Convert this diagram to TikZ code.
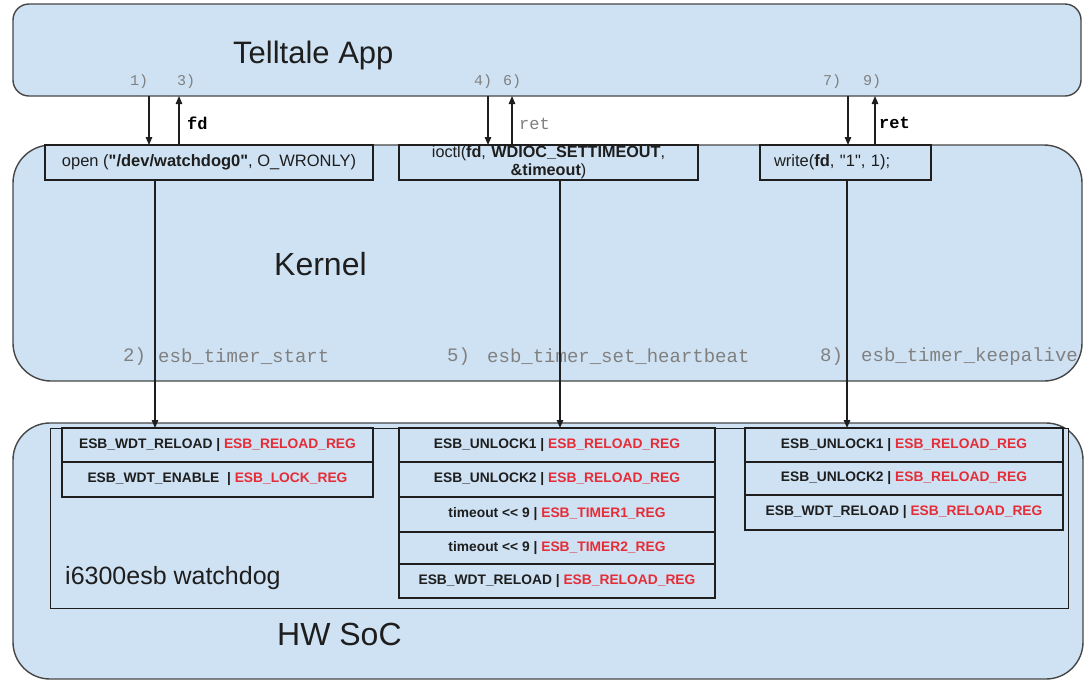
\documentclass[tikz,border=0pt]{standalone}
\usepackage{fontspec}
\setmainfont{Liberation Sans}
\setmonofont{Liberation Mono}
\usetikzlibrary{arrows.meta}

\definecolor{panel}{RGB}{207,226,243}
\definecolor{regred}{RGB}{229,45,55}
\definecolor{stepgray}{RGB}{128,128,128}
\definecolor{ink}{RGB}{30,30,30}
\definecolor{rim}{RGB}{70,70,70}

\newcommand{\rr}[1]{\textcolor{regred}{#1}}
\newcommand{\dq}{{\addfontfeature{Ligatures=TeXOff}\symbol{34}}}

\begin{document}
\begin{tikzpicture}[x=1pt,y=-1pt,
  layerbox/.style={draw=rim, line width=1.4pt, fill=panel, inner sep=0pt, outer sep=0pt, anchor=north west},
  callbox/.style={draw=ink, line width=1.3pt, fill=panel, inner sep=0pt, outer sep=0pt, anchor=north west,
    minimum height=35pt, text=ink, font=\fontsize{16.5}{18}\selectfont},
  regbox/.style={draw=ink, line width=1.3pt, fill=panel, inner sep=0pt, outer sep=0pt, anchor=north west,
    text=ink, font=\fontsize{13.8}{16}\selectfont\bfseries},
  biglabel/.style={inner sep=0pt, anchor=base west, text=ink},
  steplabel/.style={inner sep=0pt, anchor=west, text=stepgray, font=\ttfamily\fontsize{15}{15}\selectfont},
  fnlabel/.style={inner sep=0pt, anchor=west, text=stepgray, font=\ttfamily\fontsize{19}{19}\selectfont},
  retlabel/.style={inner sep=0pt, anchor=west, font=\ttfamily\fontsize{17}{17}\selectfont},
  flow/.style={draw=ink, line width=1.3pt, -{Triangle[length=8pt,width=6.5pt]}}
]
\useasboundingbox (0,0) rectangle (1087,681);
\fill[white] (0,0) rectangle (1087,681);

% layers
\node[layerbox, rounded corners=16pt, minimum width=1068pt, minimum height=92pt] (app) at (13,4) {};
\node[layerbox, rounded corners=38pt, minimum width=1069pt, minimum height=236pt] (kernel) at (13,145) {};
\node[layerbox, rounded corners=37pt, minimum width=1070pt, minimum height=256pt] (soc) at (13,423) {};
\node[draw=ink, line width=1.3pt, fill=panel, inner sep=0pt, anchor=north west,
      minimum width=1018pt, minimum height=180pt] (wdt) at (50,428) {};

\node[biglabel, font=\fontsize{31}{31}\selectfont] (appname) at (233,63) {Telltale App};
\node[biglabel, font=\fontsize{32}{32}\selectfont] (kername) at (274,275) {Kernel};
\node[biglabel, font=\fontsize{32}{32}\selectfont] (socname) at (277,645) {HW SoC};
\node[biglabel, font=\fontsize{25}{25}\selectfont] (wdtname) at (65,584) {i6300esb watchdog};

% system calls in the kernel
\node[callbox, minimum width=328pt] (open) at (45,145)
  {open (\textbf{\dq/dev/watchdog0\dq}, O\_WRONLY)};
\node[callbox, minimum width=299pt, text width=281pt, align=center,
      font=\fontsize{16.2}{18}\selectfont] (ioctl) at (399,145)
  {ioctl(\textbf{fd}, \textbf{WDIOC\_SETTIMEOUT},\\[0pt]\textbf{\&timeout})};
\node[callbox, minimum width=171pt, text width=143pt, align=left, inner xsep=14pt] (write) at (760,145)
  {write(\textbf{fd}, \dq 1\dq, 1);};

% step numbers
\node[steplabel] (s1) at (130,82) {1)};
\node[steplabel] (s3) at (177,82) {3)};
\node[steplabel] (s4) at (474,82) {4)};
\node[steplabel] (s6) at (503,82) {6)};
\node[steplabel] (s7) at (823,82) {7)};
\node[steplabel] (s9) at (863,82) {9)};

% driver functions
\node[fnlabel] (s2) at (123,357) {2)};
\node[fnlabel] (f2) at (158,357) {esb\_timer\_start};
\node[fnlabel] (s5) at (447,357) {5)};
\node[fnlabel] (f5) at (487,357) {esb\_timer\_set\_heartbeat};
\node[fnlabel] (s8) at (820,357) {8)};
\node[fnlabel] (f8) at (861,357) {esb\_timer\_keepalive};

% register writes
\node[regbox, minimum width=311pt, minimum height=34pt] (a1) at (62,428) {ESB\_WDT\_RELOAD | \rr{ESB\_RELOAD\_REG}};
\node[regbox, minimum width=311pt, minimum height=35pt] (a2) at (62,462) {ESB\_WDT\_ENABLE \ | \rr{ESB\_LOCK\_REG}};

\node[regbox, minimum width=316pt, minimum height=34pt] (b1) at (399,428) {ESB\_UNLOCK1 | \rr{ESB\_RELOAD\_REG}};
\node[regbox, minimum width=316pt, minimum height=35pt] (b2) at (399,462) {ESB\_UNLOCK2 | \rr{ESB\_RELOAD\_REG}};
\node[regbox, minimum width=316pt, minimum height=35pt] (b3) at (399,497) {timeout <{}< 9 | \rr{ESB\_TIMER1\_REG}};
\node[regbox, minimum width=316pt, minimum height=32pt] (b4) at (399,532) {timeout <{}< 9 | \rr{ESB\_TIMER2\_REG}};
\node[regbox, minimum width=316pt, minimum height=34pt] (b5) at (399,564) {ESB\_WDT\_RELOAD | \rr{ESB\_RELOAD\_REG}};

\node[regbox, minimum width=318pt, minimum height=34pt] (c1) at (745,428) {ESB\_UNLOCK1 | \rr{ESB\_RELOAD\_REG}};
\node[regbox, minimum width=318pt, minimum height=33pt] (c2) at (745,462) {ESB\_UNLOCK2 | \rr{ESB\_RELOAD\_REG}};
\node[regbox, minimum width=318pt, minimum height=35pt] (c3) at (745,495) {ESB\_WDT\_RELOAD | \rr{ESB\_RELOAD\_REG}};

% arrow columns
\coordinate (x1) at (149,0);
\coordinate (x3) at (179,0);
\coordinate (x4) at (488,0);
\coordinate (x6) at (512,0);
\coordinate (x7) at (848,0);
\coordinate (x9) at (875,0);
\coordinate (xa) at (155,0);
\coordinate (xb) at (560,0);
\coordinate (xc) at (847,0);

% calls and returns between app and kernel
\draw[flow] (app.south -| x1) -- (open.north -| x1);
\draw[flow] (open.north -| x3) -- (app.south -| x3);
\draw[flow] (app.south -| x4) -- (ioctl.north -| x4);
\draw[flow] (ioctl.north -| x6) -- (app.south -| x6);
\draw[flow] (app.south -| x7) -- (write.north -| x7);
\draw[flow] (write.north -| x9) -- (app.south -| x9);

\node[retlabel, font=\ttfamily\bfseries\fontsize{17}{17}\selectfont] (fd) at (187,123) {fd};
\node[retlabel, text=stepgray] (ret6) at (519,124) {ret};
\node[retlabel, font=\ttfamily\bfseries\fontsize{17}{17}\selectfont] (ret9) at (879,123) {ret};

% kernel to hardware
\draw[flow] (open.south -| xa) -- (a1.north -| xa);
\draw[flow] (ioctl.south -| xb) -- (b1.north -| xb);
\draw[flow] (write.south -| xc) -- (c1.north -| xc);
\end{tikzpicture}
\end{document}
